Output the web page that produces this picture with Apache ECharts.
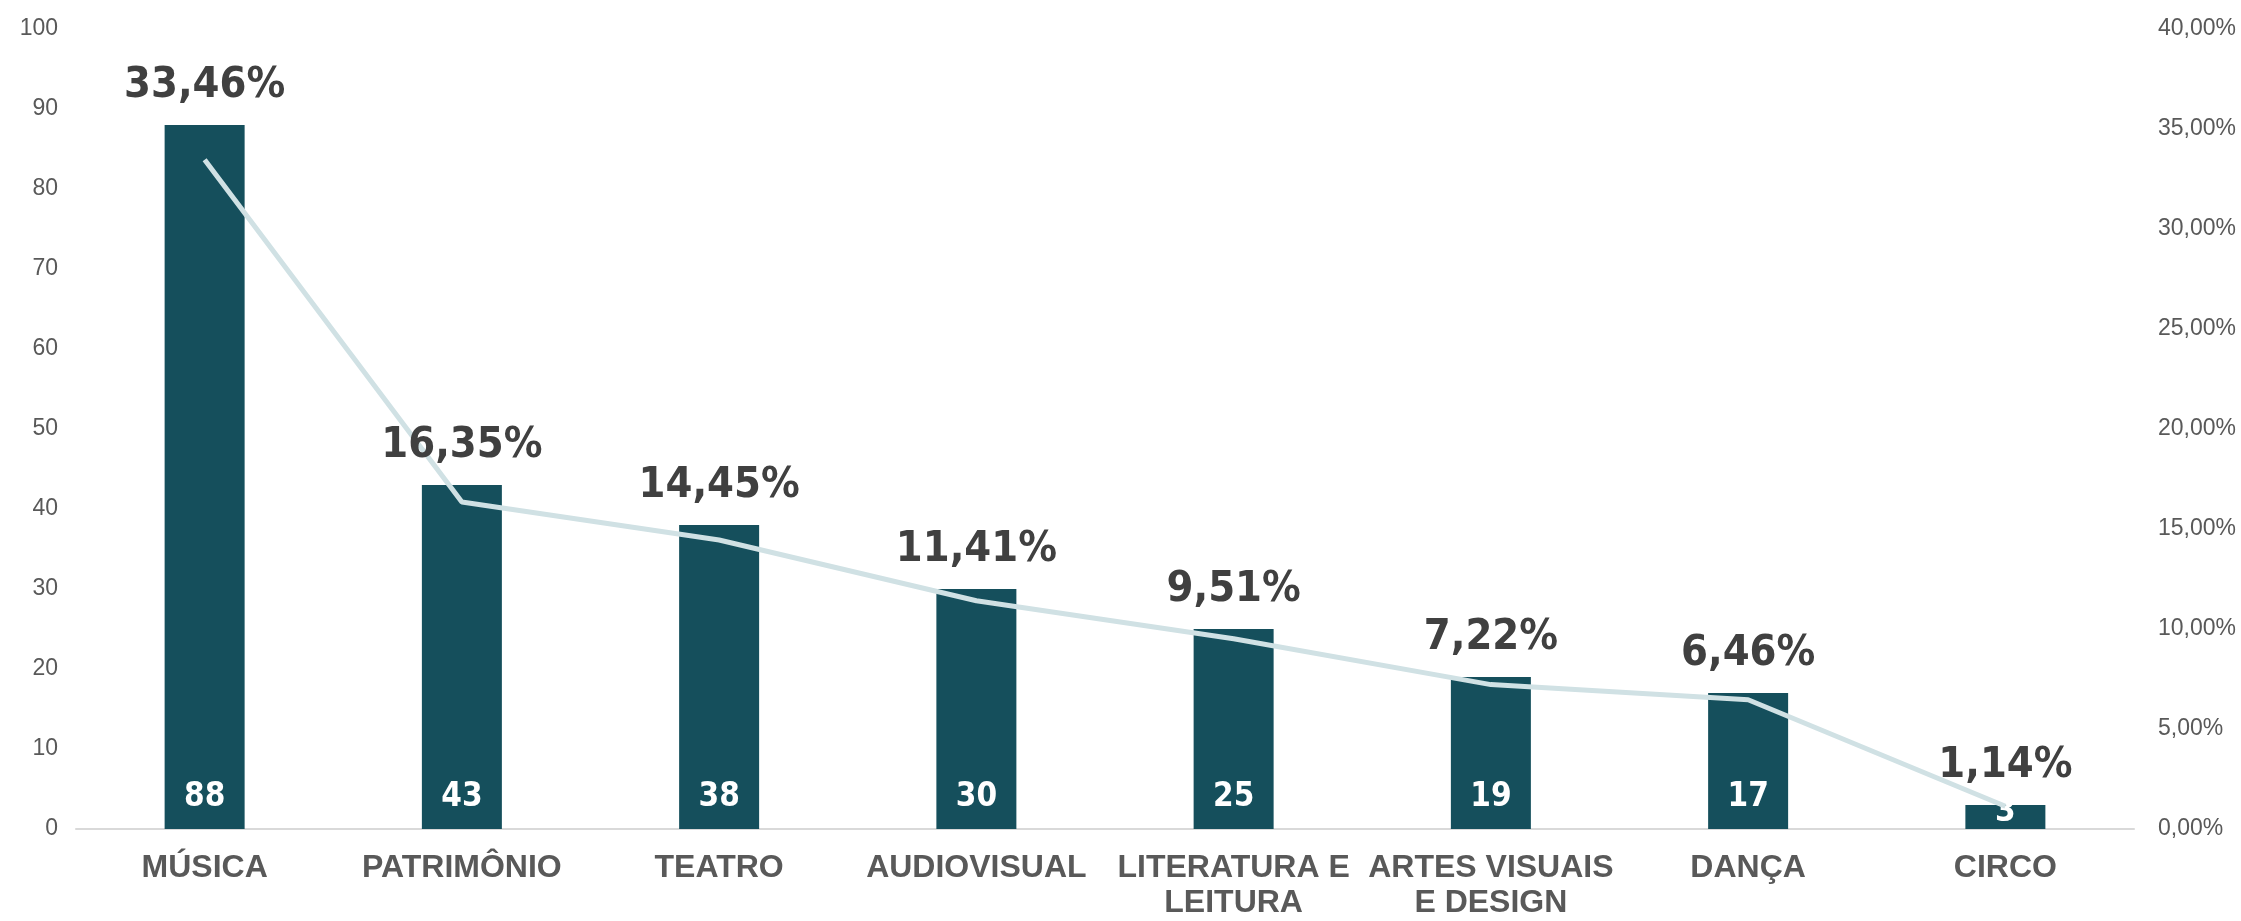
<!DOCTYPE html>
<html>
<head>
<meta charset="utf-8">
<script src="https://cdn.jsdelivr.net/npm/echarts@6/dist/echarts.min.js"></script>
<style>
  html, body { margin: 0; padding: 0; background: #fff; }
  #chart { width: 2241px; height: 921px; }
</style>
</head>
<body>
<div id="chart"></div>
<script>
// dados
const categories = ['MÚSICA', 'PATRIMÔNIO', 'TEATRO', 'AUDIOVISUAL', 'LITERATURA E\nLEITURA', 'ARTES VISUAIS\nE DESIGN', 'DANÇA', 'CIRCO'];
const counts = [88, 43, 38, 30, 25, 19, 17, 3];
const percents = [33.46, 16.35, 14.45, 11.41, 9.51, 7.22, 6.46, 1.14];

const fmtPct = v => v.toFixed(2).replace('.', ',') + '%';
const condensed = '"DejaVu Sans Condensed", "DejaVu Sans", sans-serif';

let myChart = echarts.init(document.getElementById('chart'));
myChart.setOption({
  animation: false,
  grid: { left: 76, right: 107, top: 29, bottom: 86 },
  xAxis: {
    type: 'category',
    data: categories,
    axisTick: { show: false },
    axisLine: { lineStyle: { color: '#d9d9d9', width: 2 } },
    axisLabel: {
      color: '#595959',
      fontFamily: 'Liberation Sans, Arial, sans-serif',
      fontWeight: 'bold',
      fontSize: 32,
      lineHeight: 35,
      margin: 22,
      interval: 0
    }
  },
  yAxis: [
    {
      type: 'value',
      min: 0, max: 100, interval: 10,
      splitLine: { show: false },
      axisLine: { show: false },
      axisLabel: { color: '#595959', fontFamily: 'Liberation Sans, Arial, sans-serif', fontSize: 23, margin: 18 }
    },
    {
      type: 'value',
      min: 0, max: 40, interval: 5,
      splitLine: { show: false },
      axisLine: { show: false },
      axisLabel: {
        color: '#595959', fontFamily: 'Liberation Sans, Arial, sans-serif', fontSize: 23, margin: 24,
        formatter: v => fmtPct(v)
      }
    }
  ],
  series: [
    {
      // barras com valor absoluto (barra muito baixa: rotulo encostado na base)
      type: 'bar',
      data: counts.map(v => v < 5 ? { value: v, label: { distance: 0 } } : v),
      barWidth: 80,
      itemStyle: { color: '#154f5c' },
      label: {
        show: true,
        position: 'insideBottom',
        distance: 15,
        color: '#ffffff',
        fontFamily: condensed,
        fontWeight: 'bold',
        fontSize: 33
      },
      z: 2
    },
    {
      // barra invisivel so para o rotulo de percentual
      type: 'bar',
      data: counts,
      barWidth: 80,
      barGap: '-100%',
      itemStyle: { color: 'transparent' },
      label: {
        show: true,
        position: 'top',
        distance: 18,
        color: '#404040',
        fontFamily: condensed,
        fontWeight: 'bold',
        fontSize: 43,
        formatter: p => fmtPct(percents[p.dataIndex])
      },
      z: 4
    },
    {
      type: 'line',
      yAxisIndex: 1,
      data: percents,
      symbol: 'none',
      lineStyle: { color: '#d0e1e4', width: 5 },
      z: 3
    }
  ]
});
</script>
</body>
</html>
